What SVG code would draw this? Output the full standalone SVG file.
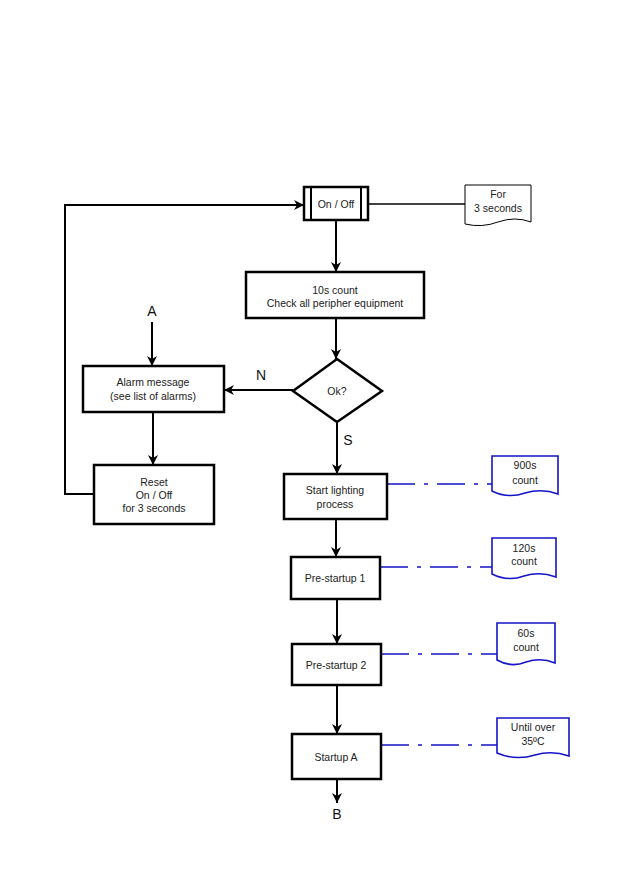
<svg xmlns="http://www.w3.org/2000/svg" width="632" height="893" viewBox="0 0 632 893">
<style>
text{font-family:"Liberation Sans",Arial,sans-serif;font-size:10.5px;fill:#222;text-anchor:middle}
.lbl{font-size:14px;fill:#111}
.box{fill:#fff;stroke:#000;stroke-width:2.5}
.ln{fill:none;stroke:#000;stroke-width:2}
.doc{fill:#fff;stroke:#000;stroke-width:1}
.bdoc{fill:#fff;stroke:#1414c8;stroke-width:1.6}
.dd{fill:none;stroke:#1414c8;stroke-width:1.6;stroke-dasharray:28 9 4 9}
</style>
<defs>
<marker id="ah" viewBox="0 0 10 10" refX="10" refY="5" markerWidth="11" markerHeight="10" orient="auto" markerUnits="userSpaceOnUse">
<path d="M0,0 L10,5 L0,10 L3,5 Z" fill="#000"/>
</marker>
</defs>
<rect width="632" height="893" fill="#fff"/>
<g id="connectors">
<path class="ln" d="M336,220 V272" marker-end="url(#ah)"/>
<path class="ln" d="M336,318 V359" marker-end="url(#ah)"/>
<path class="ln" d="M293,390 H224" marker-end="url(#ah)"/>
<path class="ln" d="M152,322 V366" marker-end="url(#ah)"/>
<path class="ln" d="M153,412 V465" marker-end="url(#ah)"/>
<path class="ln" d="M94,494 H65 V205 H304" marker-end="url(#ah)"/>
<path class="ln" d="M337,422 V474" marker-end="url(#ah)"/>
<path class="ln" d="M336,519 V557" marker-end="url(#ah)"/>
<path class="ln" d="M337,599 V644" marker-end="url(#ah)"/>
<path class="ln" d="M337,685 V734" marker-end="url(#ah)"/>
<path class="ln" d="M337,779 V803" marker-end="url(#ah)"/>
<path fill="none" stroke="#000" stroke-width="1.3" d="M368,204 H465"/>
<path class="dd" d="M387,484 H492"/>
<path class="dd" d="M380,567 H492"/>
<path class="dd" d="M381,654 H497"/>
<path class="dd" d="M381,745 H497"/>
<text class="lbl" x="152" y="316">A</text>
<text class="lbl" x="261" y="380">N</text>
<text class="lbl" x="348" y="445">S</text>
<text class="lbl" x="337" y="819">B</text>
</g>
<g id="onoff">
<rect class="box" x="304" y="187" width="64" height="33"/>
<path class="ln" d="M311,187 V220 M361,187 V220"/>
<text x="336" y="208">On / Off</text>
</g>
<g id="for3s">
<path class="doc" d="M465,185 H531 V222 Q515,216 498,222 Q482,228 465,224 Z"/>
<text x="498" y="198">For</text>
<text x="498" y="212">3 seconds</text>
</g>
<g id="count10">
<rect class="box" x="246" y="272" width="178" height="46"/>
<text x="335" y="294">10s count</text>
<text x="335" y="307">Check all peripher equipment</text>
</g>
<g id="ok">
<path class="box" stroke-width="2" d="M337,359 L382,391 L337,422 L293,391 Z"/>
<text x="337" y="395">Ok?</text>
</g>
<g id="alarm">
<rect class="box" x="83" y="366" width="141" height="46"/>
<text x="153" y="386">Alarm message</text>
<text x="153" y="400">(see list of alarms)</text>
</g>
<g id="reset">
<rect class="box" x="94" y="465" width="120" height="59"/>
<text x="154" y="486">Reset</text>
<text x="154" y="499">On / Off</text>
<text x="154" y="512">for 3 seconds</text>
</g>
<g id="startlighting">
<rect class="box" x="284" y="474" width="103" height="45"/>
<text x="335" y="494">Start lighting</text>
<text x="335" y="508">process</text>
</g>
<g id="doc900">
<path class="bdoc" d="M492,456 H558 V494 Q542,488 525,493 Q508,499 492,491 Z"/>
<text x="525" y="469">900s</text>
<text x="525" y="484">count</text>
</g>
<g id="pre1">
<rect class="box" x="291" y="557" width="89" height="42"/>
<text x="335" y="582">Pre-startup 1</text>
</g>
<g id="doc120">
<path class="bdoc" d="M492,538 H556 V577 Q540,571 524,576 Q508,582 492,574 Z"/>
<text x="524" y="552">120s</text>
<text x="524" y="565">count</text>
</g>
<g id="pre2">
<rect class="box" x="292" y="644" width="89" height="41"/>
<text x="336" y="669">Pre-startup 2</text>
</g>
<g id="doc60">
<path class="bdoc" d="M497,623 H555 V663 Q541,657 526,662 Q511,668 497,660 Z"/>
<text x="526" y="637">60s</text>
<text x="526" y="651">count</text>
</g>
<g id="startupA">
<rect class="box" x="292" y="734" width="89" height="45"/>
<text x="336" y="761">Startup A</text>
</g>
<g id="doc35">
<path class="bdoc" d="M497,718 H569 V756 Q552,750 535,755 Q516,761 497,753 Z"/>
<text x="533" y="731">Until over</text>
<text x="533" y="745">35ºC</text>
</g>
</svg>
